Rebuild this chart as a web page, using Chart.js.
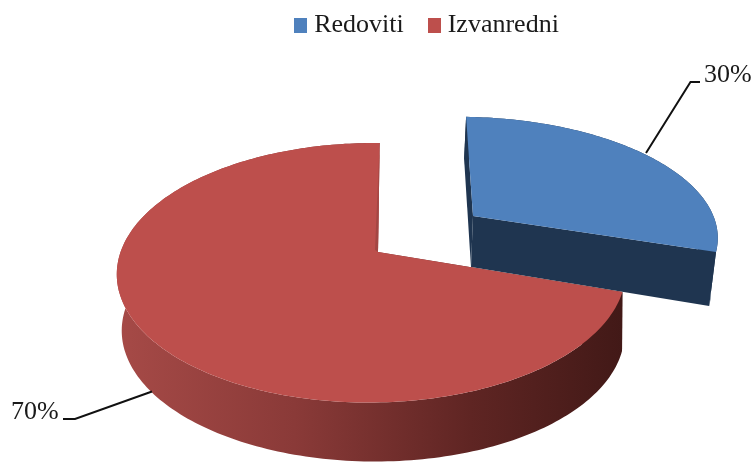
<!DOCTYPE html>
<html>
<head>
<meta charset="utf-8">
<title>Redoviti / Izvanredni</title>
<script src="https://cdn.jsdelivr.net/npm/chart.js@4"></script>
<style>
html, body { margin: 0; padding: 0; background: #fff; }
#wrap { width: 756px; height: 462px; }
</style>
</head>
<body>
<div id="wrap"><canvas id="pie" width="756" height="462"></canvas></div>
<script>
var categories = ['Redoviti', 'Izvanredni'];
var shares = [30, 70];
var sliceColors = ['#4f81bd', '#bd4f4c'];

// perspective of each slice: top plane and bottom plane (the slice is exploded)
var planes = [
    { top: { x: 473, y: 216, a: 250, b: 115, s: -8, p: 0.16, q: 0.04 },
      bottom: { x: 471, y: 267, a: 245, b: 125, s: -8, p: 0.16, q: 0.04 } },
    { top: { x: 378, y: 252, a: 251, b: 126.4, s: 2, p: 0.16, q: 0.025 },
      bottom: { x: 379, y: 311, a: 248, b: 126.4, s: -3, p: 0.16, q: 0.025 }, sliver: 3 }
];

// leader lines and where the percent text sits
var leaders = [
    { line: [[646, 153], [690.5, 82], [700, 82]], textX: 704, textY: 82 },
    { line: [[152, 391.5], [75, 419], [63, 419]], textX: 11, textY: 419 }
];

function project(pl, angle) {
    var u = Math.cos(angle), v = -Math.sin(angle);
    var w = 1 + pl.p * v + pl.q * u;
    return [pl.x + (pl.a * u + pl.s * v) / w, pl.y - pl.b * v / w];
}

function arcPoints(pl, start, end) {
    var pts = [];
    var steps = Math.ceil((end - start) / 0.02);
    for (var i = 0; i <= steps; i++) {
        pts.push(project(pl, start + (end - start) * i / steps));
    }
    return pts;
}

function fillPoly(ctx, pts, fill) {
    ctx.beginPath();
    pts.forEach(function (p, i) {
        if (i === 0) ctx.moveTo(p[0], p[1]); else ctx.lineTo(p[0], p[1]);
    });
    ctx.closePath();
    ctx.fillStyle = fill;
    ctx.fill();
}

function wallFill(ctx, index) {
    if (index === 0) return '#1f3550';
    var g = ctx.createLinearGradient(118, 0, 622, 0);
    g.addColorStop(0, '#a64a47');
    g.addColorStop(0.35, '#8a3a38');
    g.addColorStop(0.7, '#5f2523');
    g.addColorStop(1, '#421917');
    return g;
}

// the arc elements give the angles, this only draws them tilted with a rim
var tiltedPie = {
    id: 'tiltedPie',
    beforeDatasetsDraw: function (chart) {
        var ctx = chart.ctx;
        var arcs = chart.getDatasetMeta(0).data;
        ctx.save();
        arcs.forEach(function (arc, i) {
            var pl = planes[i];
            var topArc = arcPoints(pl.top, arc.startAngle, arc.endAngle);
            var bottomArc = arcPoints(pl.bottom, arc.startAngle, arc.endAngle);
            var apexTop = [pl.top.x, pl.top.y];
            var apexBottom = [pl.bottom.x, pl.bottom.y];
            var wall = wallFill(ctx, i);

            fillPoly(ctx, topArc.concat(bottomArc.slice().reverse()), wall);
            fillPoly(ctx, [apexTop, topArc[0], bottomArc[0], apexBottom], wall);
            fillPoly(ctx, [apexTop, topArc[topArc.length - 1], bottomArc[bottomArc.length - 1], apexBottom], wall);
            fillPoly(ctx, [apexTop].concat(topArc), arc.options.backgroundColor);

            if (pl.sliver) {
                var outer = topArc[topArc.length - 1];
                fillPoly(ctx, [[outer[0] - 0.5, outer[1] + 10], apexTop, [apexTop[0] - pl.sliver, apexTop[1] - 2]], '#a34643');
            }
        });

        ctx.strokeStyle = '#111';
        ctx.lineWidth = 2;
        ctx.fillStyle = '#1a1a1a';
        ctx.font = '26px "Liberation Serif"';
        ctx.textAlign = 'left';
        ctx.textBaseline = 'alphabetic';
        leaders.forEach(function (l, i) {
            ctx.beginPath();
            l.line.forEach(function (p, k) {
                if (k === 0) ctx.moveTo(p[0], p[1]); else ctx.lineTo(p[0], p[1]);
            });
            ctx.stroke();
            ctx.fillText(shares[i] + '%', l.textX, l.textY);
        });
        ctx.restore();
        return false;
    }
};

function swatch(color) {
    var c = document.createElement('canvas');
    c.width = 13;
    c.height = 15;
    var x = c.getContext('2d');
    x.fillStyle = color;
    x.fillRect(0, 0, 13, 15);
    return c;
}

var pie = document.getElementById('pie').getContext('2d');
var myChart = new Chart(pie, {
    type: 'pie',
    data: {
        labels: categories,
        datasets: [{
            data: shares,
            backgroundColor: sliceColors,
            borderWidth: 0
        }]
    },
    options: {
        responsive: false,
        animation: false,
        events: [],
        layout: { padding: { left: 103, top: -18 } },
        plugins: {
            tooltip: { enabled: false },
            legend: {
                position: 'top',
                labels: {
                    color: '#1a1a1a',
                    font: { family: '"Liberation Serif"', size: 26 },
                    usePointStyle: true,
                    boxWidth: 1,
                    padding: 30,
                    generateLabels: function (chart) {
                        var items = Chart.overrides.pie.plugins.legend.labels.generateLabels(chart);
                        items.forEach(function (item, i) {
                            item.pointStyle = swatch(sliceColors[i]);
                        });
                        return items;
                    }
                }
            }
        }
    },
    plugins: [tiltedPie]
});
</script>
</body>
</html>
